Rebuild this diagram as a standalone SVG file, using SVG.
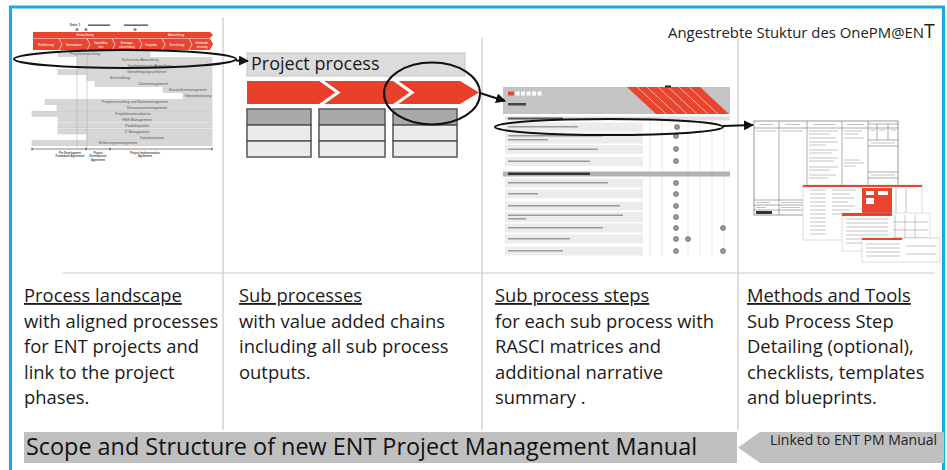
<svg xmlns="http://www.w3.org/2000/svg" width="947" height="470" viewBox="0 0 947 470">
<style>
.body{font-family:"Open Sans","Noto Sans","DejaVu Sans",sans-serif;font-size:18.4px;fill:#1a1a1a}
.head{text-decoration:underline}
.bar{fill:#d7d7d7;stroke:#c2c2c2;stroke-width:0.5}
.tiny{font-family:"Liberation Sans",Arial,sans-serif;font-size:3.6px;fill:#555;text-anchor:middle}
.ph{font-family:"Liberation Sans",Arial,sans-serif;font-size:2.7px;font-weight:bold;fill:#444;text-anchor:middle}
.tinyw{font-family:"Liberation Sans",Arial,sans-serif;font-size:3.2px;fill:#fff;text-anchor:middle}
.div{stroke:#c8c8c8;stroke-width:1.2}
.conn{fill:none;stroke:#111;stroke-width:2}
.cell{stroke:#555;stroke-width:1.5}
.row{fill:#ececec}
.blob{fill:#9a9a9a}
.dot{fill:#9a9a9a;stroke:#555;stroke-width:0.6}
.grid{stroke:#dadada;stroke-width:0.6}
.doc{fill:#fff;stroke:#555;stroke-width:0.6}
.dl{stroke:#555;stroke-width:0.5}
.tl{stroke:#aaa;stroke-width:0.7}
</style>
<defs>
<marker id="ah" viewBox="0 0 10 10" refX="9" refY="5" markerWidth="5" markerHeight="5" orient="auto" markerUnits="strokeWidth">
<path d="M0,0 L10,5 L0,10 z" fill="#111"/>
</marker>
</defs>
<rect x="0" y="0" width="947" height="470" fill="#fff"/>
<rect x="10.5" y="7" width="933" height="480" fill="none" stroke="#19a9e6" stroke-width="3"/>

<!-- dividers -->
<g id="dividers">
<line class="div" x1="223" y1="17" x2="223" y2="430"/>
<line class="div" x1="482" y1="38" x2="482" y2="430"/>
<line class="div" x1="738" y1="38" x2="738" y2="430"/>
<line class="div" x1="63" y1="273" x2="935" y2="273"/>
</g>

<text x="668" y="38" font-family="'Open Sans','Noto Sans',sans-serif" font-size="14.9" fill="#222">Angestrebte Stuktur des OnePM@EN<tspan font-size="19.5">T</tspan></text>

<!-- Column 1: process landscape thumbnail -->
<g id="landscape">
<text class="tiny" x="75" y="26" font-weight="bold" font-size="3.2">Gate 1</text>
<rect x="88" y="24.5" width="22" height="1.3" fill="#444"/>
<rect x="124" y="24.5" width="24" height="1.3" fill="#444"/>
<circle cx="77" cy="29.5" r="1.6" fill="#888"/>
<circle cx="86" cy="29.5" r="1.6" fill="#888"/>
<circle cx="135" cy="29.5" r="1.6" fill="#888"/>
<polygon points="33,32 210,32 213,35 210,38 33,38" fill="#e8452f"/>
<text class="tinyw" x="85" y="36.3">Entwicklung</text>
<text class="tinyw" x="176" y="36.3">Abwicklung</text>
<polygon points="33,38.6 210,38.6 213,44.3 210,50 33,50" fill="#e8452f"/>
<g fill="none" stroke="#fff" stroke-width="0.7">
<polyline points="59,38.6 62,44.3 59,50"/>
<polyline points="87,38.6 90,44.3 87,50"/>
<polyline points="112,38.6 115,44.3 112,50"/>
<polyline points="139,38.6 142,44.3 139,50"/>
<polyline points="162,38.6 165,44.3 162,50"/>
<polyline points="189,38.6 192,44.3 189,50"/>
</g>
<text class="tinyw" x="46" y="45.5">Einführung</text>
<text class="tinyw" x="74" y="45.5">Konzeption</text>
<text class="tinyw" x="101" y="43.5">Spezifika-</text><text class="tinyw" x="101" y="47.5">tion</text>
<text class="tinyw" x="127" y="43.5">Vertrags-</text><text class="tinyw" x="127" y="47.5">abwicklung</text>
<text class="tinyw" x="151" y="45.5">Vergabe</text>
<text class="tinyw" x="177" y="45.5">Errichtung</text>
<text class="tinyw" x="202" y="43.5">Inbetrieb-</text><text class="tinyw" x="202" y="47.5">setzung</text>

<rect class="bar" x="58" y="51.5" width="92" height="5"/>
<text class="tiny" x="85" y="55.3">Projektentwicklung</text>
<rect class="bar" x="77" y="57.5" width="135" height="5"/>
<text class="tiny" x="140" y="61.3">Technische Abwicklung</text>
<rect class="bar" x="77" y="63.5" width="135" height="5"/>
<text class="tiny" x="150" y="67.3">Kaufmännische Abwicklung</text>
<rect class="bar" x="58" y="69.5" width="154" height="5"/>
<text class="tiny" x="147" y="73.3">Genehmigungsverfahren</text>
<rect class="bar" x="87" y="75.5" width="125" height="5"/>
<text class="tiny" x="120" y="79.3">Beschaffung</text>
<rect class="bar" x="95" y="81.5" width="117" height="5"/>
<text class="tiny" x="153" y="85.3">Claimmanagement</text>
<rect class="bar" x="163" y="87.5" width="49" height="5"/>
<text class="tiny" x="188" y="91.3">Baustellenmanagement</text>
<rect class="bar" x="183" y="93.5" width="29" height="5"/>
<text class="tiny" x="198" y="97.3">Inbetriebsetzung</text>
<rect class="bar" x="45" y="99.5" width="167" height="5"/>
<text class="tiny" x="135" y="103.3">Projektcontrolling und Risikomanagement</text>
<rect class="bar" x="57" y="105.5" width="155" height="5"/>
<text class="tiny" x="147" y="109.3">Ressourcenmanagement</text>
<rect class="bar" x="32" y="111.2" width="180" height="5"/>
<text class="tiny" x="133" y="115">Projektkommunikation</text>
<rect class="bar" x="58" y="117" width="154" height="5"/>
<text class="tiny" x="137" y="120.8">HSE-Management</text>
<rect class="bar" x="58" y="123" width="154" height="5"/>
<text class="tiny" x="137" y="126.8">Produktqualität</text>
<rect class="bar" x="58" y="129" width="154" height="5"/>
<text class="tiny" x="137" y="132.8">IT Management</text>
<rect class="bar" x="87" y="134.8" width="125" height="5"/>
<text class="tiny" x="152" y="138.6">Dokumentation</text>
<rect class="bar" x="32" y="140.6" width="180" height="5"/>
<text class="tiny" x="118" y="144.4">Erfahrungsmanagement</text>
<line x1="77" y1="53" x2="77" y2="148" stroke="#aaa" stroke-width="0.5"/>
<line x1="87" y1="53" x2="87" y2="148" stroke="#aaa" stroke-width="0.5"/>
<line x1="32" y1="149" x2="212" y2="149" stroke="#333" stroke-width="0.6"/>
<g fill="#333"><rect x="31.5" y="147.8" width="1" height="2.4"/><rect x="85.5" y="147.8" width="1" height="2.4"/><rect x="109.5" y="147.8" width="1" height="2.4"/><rect x="211.5" y="147.8" width="1" height="2.4"/></g>
<text class="ph" x="70" y="153.5">Pre Development</text>
<text class="ph" x="70" y="157">Framework Agreement</text>
<text class="ph" x="98" y="153.5">Project</text>
<text class="ph" x="98" y="157">Development</text>
<text class="ph" x="98" y="160.5">Agreement</text>
<text class="ph" x="145" y="153.5">Project Implementation</text>
<text class="ph" x="145" y="157">Agreement</text>
</g>

<!-- Column 2: project process -->
<g id="project-process">
<rect x="247" y="53" width="218" height="23" fill="#dcdcdc" stroke="#c4c4c4" stroke-width="1"/>
<text x="251" y="69.5" font-family="'Open Sans','Noto Sans',sans-serif" font-size="18" fill="#1a1a1a">Project process</text>
<polygon points="247,81 460,81 479,92.5 460,104 247,104" fill="#e8402a"/>
<g fill="none" stroke="#fff" stroke-width="3">
<polyline points="319,79 338,92.5 319,106"/>
<polyline points="393,79 412,92.5 393,106"/>
</g>
<g class="cell">
<rect x="247" y="109" width="64" height="16" fill="#a9a9a9"/>
<rect x="247" y="125" width="64" height="16" fill="#ebebeb"/>
<rect x="247" y="141" width="64" height="16" fill="#ebebeb"/>
<rect x="319" y="109" width="66" height="16" fill="#a9a9a9"/>
<rect x="319" y="125" width="66" height="16" fill="#ebebeb"/>
<rect x="319" y="141" width="66" height="16" fill="#ebebeb"/>
<rect x="393" y="109" width="64" height="16" fill="#a9a9a9"/>
<rect x="393" y="125" width="64" height="16" fill="#ebebeb"/>
<rect x="393" y="141" width="64" height="16" fill="#ebebeb"/>
</g>
</g>

<!-- Column 3: sub process steps thumbnail -->
<g id="sub-process-steps">
<g class="grid">
<line x1="650" y1="118" x2="650" y2="256"/><line x1="662" y1="118" x2="662" y2="256"/>
<line x1="688" y1="118" x2="688" y2="256"/><line x1="700" y1="118" x2="700" y2="256"/>
<line x1="712" y1="118" x2="712" y2="256"/><line x1="724" y1="118" x2="724" y2="256"/>
</g>
<rect x="503" y="87" width="227" height="27" fill="#c4c4c4"/>
<polygon points="627,87 700,87 729,114 656,114" fill="#e8452f"/>
<g stroke="#fff" stroke-width="0.6">
<line x1="637" y1="87" x2="666" y2="114"/><line x1="647" y1="87" x2="676" y2="114"/>
<line x1="658" y1="87" x2="687" y2="114"/><line x1="668" y1="87" x2="697" y2="114"/>
<line x1="679" y1="87" x2="708" y2="114"/><line x1="689" y1="87" x2="718" y2="114"/>
</g>
<rect x="665" y="85.5" width="6" height="2" fill="#222"/>
<rect x="508" y="91.5" width="6" height="4" fill="#e8452f"/>
<g fill="#fff"><rect x="515.5" y="91.5" width="4" height="4"/><rect x="521" y="91.5" width="4" height="4"/><rect x="526.5" y="91.5" width="4" height="4"/><rect x="532" y="91.5" width="4" height="4"/><rect x="537.5" y="91.5" width="4" height="4"/></g>
<rect x="508" y="103" width="18" height="2.5" fill="#444"/>
<rect x="505" y="116.5" width="225" height="4" fill="#e0e0e0"/>
<rect x="508" y="117.5" width="55" height="2" fill="#555"/>
<g class="row">
<rect x="505" y="122.5" width="138" height="9"/>
<rect x="505" y="132.5" width="138" height="11"/>
<rect x="505" y="145" width="138" height="9"/>
<rect x="505" y="157" width="138" height="9"/>
<rect x="505" y="178.5" width="138" height="9"/>
<rect x="505" y="189.5" width="138" height="9"/>
<rect x="505" y="201.5" width="138" height="9"/>
<rect x="505" y="212" width="138" height="10"/>
<rect x="505" y="223.5" width="138" height="9"/>
<rect x="505" y="234.5" width="138" height="9"/>
<rect x="505" y="246.5" width="138" height="9"/>
</g>
<rect x="503" y="171.5" width="227" height="5" fill="#b2b2b2"/>
<rect x="508" y="172.5" width="82" height="2.5" fill="#333"/>
<g class="blob">
<rect x="508" y="126" width="70" height="1.5"/>
<rect x="508" y="135" width="95" height="1.5"/><rect x="508" y="139" width="40" height="1.5"/>
<rect x="508" y="148.5" width="90" height="1.5"/>
<rect x="508" y="160.5" width="82" height="1.5"/>
<rect x="508" y="182" width="100" height="1.5"/>
<rect x="508" y="193" width="30" height="1.5"/>
<rect x="508" y="205" width="112" height="1.5"/>
<rect x="508" y="214.5" width="115" height="1.5"/><rect x="508" y="218" width="18" height="1.5"/>
<rect x="508" y="227" width="95" height="1.5"/>
<rect x="508" y="238" width="62" height="1.5"/>
<rect x="508" y="250" width="55" height="1.5"/>
</g>
<g class="dot">
<circle cx="677" cy="127" r="2.5"/><circle cx="676" cy="136" r="2.5"/><circle cx="676" cy="149" r="2.5"/><circle cx="676" cy="161" r="2.5"/>
<circle cx="676" cy="183" r="2.5"/><circle cx="676" cy="194" r="2.5"/><circle cx="676" cy="206" r="2.5"/><circle cx="676" cy="217" r="2.5"/>
<circle cx="676" cy="228" r="2.5"/><circle cx="723" cy="228" r="2.5"/>
<circle cx="676" cy="239" r="2.5"/><circle cx="688" cy="239" r="2.5"/>
<circle cx="676" cy="251" r="2.5"/><circle cx="723" cy="251" r="2.5"/>
</g>
</g>

<!-- Column 4: methods and tools thumbnail -->
<g id="methods-tools">
<rect class="doc" x="754" y="121" width="144" height="94"/>
<g class="dl">
<line x1="754" y1="128" x2="898" y2="128"/>
<line x1="779" y1="121" x2="779" y2="215"/>
<line x1="807" y1="121" x2="807" y2="200"/>
<line x1="842" y1="121" x2="842" y2="200"/>
<line x1="868" y1="121" x2="868" y2="200"/>
<line x1="868" y1="124" x2="898" y2="124"/>
<line x1="877" y1="124" x2="877" y2="140"/><line x1="888" y1="124" x2="888" y2="140"/>
<line x1="868" y1="140" x2="898" y2="140"/><line x1="868" y1="146" x2="898" y2="146"/>
<line x1="868" y1="172" x2="898" y2="172"/><line x1="868" y1="178" x2="898" y2="178"/>
<line x1="754" y1="200" x2="807" y2="200"/>
<line x1="754" y1="205" x2="807" y2="205"/><line x1="754" y1="210" x2="807" y2="210"/>
</g>
<g class="tl">
<line x1="760" y1="124.5" x2="773" y2="124.5"/><line x1="785" y1="124.5" x2="800" y2="124.5"/>
<line x1="813" y1="124.5" x2="836" y2="124.5"/><line x1="846" y1="124.5" x2="864" y2="124.5"/>
<line x1="756" y1="131" x2="776" y2="131"/><line x1="781" y1="131" x2="803" y2="131"/>
<line x1="809" y1="131" x2="838" y2="131"/><line x1="809" y1="134" x2="830" y2="134"/>
<line x1="809" y1="138" x2="836" y2="138"/><line x1="809" y1="142" x2="838" y2="142"/><line x1="809" y1="145" x2="826" y2="145"/>
<line x1="809" y1="150" x2="838" y2="150"/><line x1="809" y1="153" x2="832" y2="153"/>
<line x1="809" y1="158" x2="838" y2="158"/><line x1="809" y1="161" x2="834" y2="161"/>
<line x1="809" y1="167" x2="838" y2="167"/><line x1="809" y1="170" x2="830" y2="170"/>
<line x1="809" y1="175" x2="836" y2="175"/><line x1="809" y1="178" x2="828" y2="178"/>
<line x1="844" y1="131" x2="862" y2="131"/><line x1="844" y1="134" x2="858" y2="134"/><line x1="844" y1="138" x2="864" y2="138"/>
<line x1="844" y1="160" x2="860" y2="160"/><line x1="844" y1="163" x2="864" y2="163"/><line x1="844" y1="166" x2="856" y2="166"/>
<line x1="870" y1="130" x2="875" y2="130"/><line x1="879" y1="130" x2="886" y2="130"/><line x1="890" y1="130" x2="896" y2="130"/>
<line x1="871" y1="143" x2="895" y2="143"/><line x1="871" y1="175" x2="895" y2="175"/>
<line x1="756" y1="202.5" x2="770" y2="202.5"/><line x1="781" y1="202.5" x2="803" y2="202.5"/>
<line x1="756" y1="207.5" x2="766" y2="207.5"/><line x1="781" y1="207.5" x2="800" y2="207.5"/>
</g>
<rect x="756" y="211" width="16" height="3" fill="#333"/>
<rect x="803" y="185" width="119" height="55" fill="#fff" stroke="#bbb" stroke-width="0.5"/>
<rect x="803" y="185" width="119" height="2" fill="#e8452f"/>
<rect x="862" y="188" width="30" height="27" fill="#e8452f"/>
<g fill="#fff"><rect x="866" y="191" width="8" height="4"/><rect x="878" y="191" width="10" height="4"/><rect x="866" y="198" width="8" height="6"/></g>
<g class="tl">
<line x1="810" y1="190" x2="826" y2="190"/><line x1="832" y1="190" x2="856" y2="190"/>
<line x1="810" y1="194" x2="826" y2="194"/><line x1="832" y1="194" x2="850" y2="194"/>
<line x1="810" y1="198" x2="826" y2="198"/><line x1="832" y1="198" x2="854" y2="198"/>
<line x1="810" y1="202" x2="826" y2="202"/><line x1="832" y1="202" x2="848" y2="202"/>
<line x1="810" y1="206" x2="826" y2="206"/><line x1="832" y1="206" x2="855" y2="206"/>
<line x1="810" y1="210" x2="826" y2="210"/><line x1="832" y1="210" x2="850" y2="210"/>
<line x1="810" y1="214" x2="826" y2="214"/><line x1="832" y1="214" x2="852" y2="214"/>
<line x1="810" y1="218" x2="826" y2="218"/><line x1="810" y1="222" x2="826" y2="222"/>
<line x1="810" y1="226" x2="826" y2="226"/><line x1="810" y1="230" x2="826" y2="230"/>
<line x1="810" y1="234" x2="826" y2="234"/>
<line x1="896" y1="186" x2="896" y2="240"/><line x1="906" y1="186" x2="906" y2="240"/>
</g>
<rect x="842" y="213" width="88" height="38" fill="#fff" stroke="#bbb" stroke-width="0.5"/>
<rect x="842" y="213" width="50" height="3" fill="#e8452f"/>
<g class="tl">
<line x1="846" y1="219" x2="888" y2="219"/><line x1="846" y1="223" x2="888" y2="223"/>
<line x1="846" y1="227" x2="888" y2="227"/><line x1="846" y1="231" x2="888" y2="231"/>
<line x1="846" y1="235" x2="888" y2="235"/><line x1="846" y1="239" x2="888" y2="239"/>
<line x1="846" y1="243" x2="888" y2="243"/>
<line x1="895" y1="215" x2="895" y2="250"/><line x1="905" y1="215" x2="905" y2="250"/><line x1="915" y1="215" x2="915" y2="250"/>
<line x1="893" y1="222" x2="928" y2="222"/><line x1="893" y1="230" x2="928" y2="230"/><line x1="893" y1="238" x2="928" y2="238"/>
</g>
<rect x="862" y="238" width="78" height="24" fill="#fff" stroke="#bbb" stroke-width="0.5"/>
<rect x="862" y="238" width="40" height="2" fill="#e8452f"/>
<g class="tl">
<line x1="866" y1="244" x2="900" y2="244"/><line x1="866" y1="248" x2="900" y2="248"/>
<line x1="866" y1="252" x2="900" y2="252"/><line x1="866" y1="256" x2="900" y2="256"/>
<line x1="906" y1="246" x2="936" y2="246"/><line x1="906" y1="254" x2="936" y2="254"/>
</g>
</g>

<!-- Connectors -->
<g id="connectors">
<ellipse class="conn" cx="125" cy="59" rx="111" ry="9"/>
<line class="conn" x1="236" y1="60.5" x2="248" y2="61" marker-end="url(#ah)"/>
<ellipse class="conn" cx="432" cy="93.5" rx="48" ry="31" stroke-width="1.8"/>
<line class="conn" x1="480" y1="93" x2="505" y2="101" stroke-width="1.5" marker-end="url(#ah)"/>
<ellipse class="conn" cx="609" cy="127" rx="114" ry="8" stroke-width="1.8"/>
<line class="conn" x1="723" y1="126" x2="753" y2="125" stroke-width="1.8" marker-end="url(#ah)"/>
</g>

<!-- Text columns -->
<g id="col1-text" class="body">
<text x="24" y="302" class="head">Process landscape</text>
<text x="24" y="327.5">with aligned processes</text>
<text x="24" y="353">for ENT projects and</text>
<text x="24" y="378.5">link to the project</text>
<text x="24" y="404">phases.</text>
</g>
<g id="col2-text" class="body">
<text x="239" y="302" class="head">Sub processes</text>
<text x="239" y="327.5">with value added chains</text>
<text x="239" y="353">including all sub process</text>
<text x="239" y="378.5">outputs.</text>
</g>
<g id="col3-text" class="body">
<text x="495" y="302" class="head">Sub process steps</text>
<text x="495" y="327.5">for each sub process with</text>
<text x="495" y="353">RASCI matrices and</text>
<text x="495" y="378.5">additional narrative</text>
<text x="495" y="404">summary .</text>
</g>
<g id="col4-text" class="body">
<text x="747" y="302" class="head">Methods and Tools</text>
<text x="747" y="327.5">Sub Process Step</text>
<text x="747" y="353">Detailing (optional),</text>
<text x="747" y="378.5">checklists, templates</text>
<text x="747" y="404">and blueprints.</text>
</g>

<g id="title-bar">
<rect x="24" y="432" width="713" height="31" fill="#c0c0c0"/>
<text x="26" y="455" font-family="'Open Sans','Noto Sans',sans-serif" font-size="23.4" fill="#111">Scope and Structure of new ENT Project Management Manual</text>
</g>
<g id="linked-tag">
<polygon points="760,432 944,432 944,463 760,463 738,447.5" fill="#c0c0c0"/>
<text x="770" y="445" font-family="'Open Sans','Noto Sans',sans-serif" font-size="14" fill="#222">Linked to ENT PM Manual</text>
</g>
</svg>
